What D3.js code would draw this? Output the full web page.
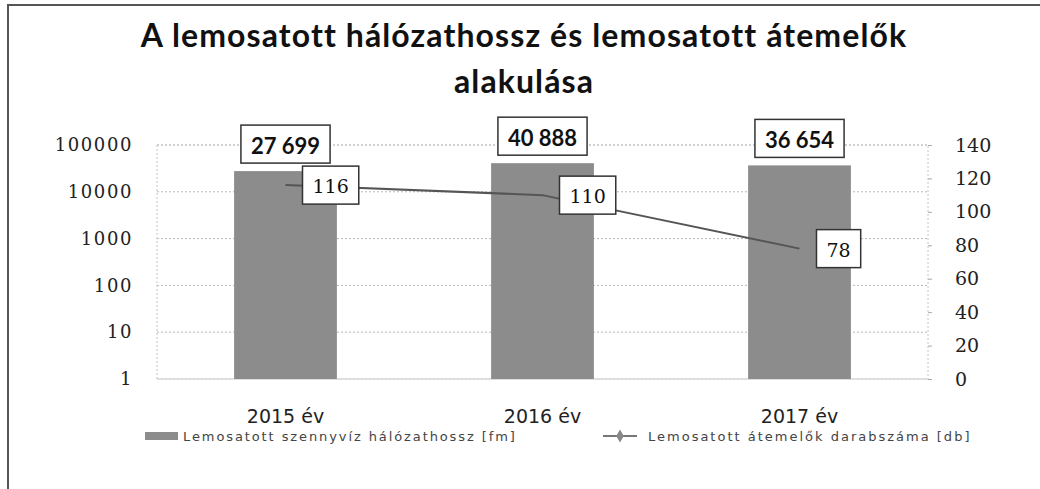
<!DOCTYPE html>
<html>
<head>
<meta charset="utf-8">
<script src="https://cdn.jsdelivr.net/npm/d3@7"></script>
<style>
  body { margin: 0; background: #fff; }
  svg { display: block; }
</style>
</head>
<body>
<svg id="chart" width="1040" height="489"></svg>
<script>
// chart data
const years = ['2015 év', '2016 év', '2017 év']
const halozatHossz = [27699, 40888, 36654]          // fm, bars (left log axis)
const atemelokDb = [116, 110, 78]                   // db, line (right axis)
const leftTicks = [1, 10, 100, 1000, 10000, 100000]
const rightTicks = [0, 20, 40, 60, 80, 100, 120, 140]
const titleLines = ['A lemosatott hálózathossz és lemosatott átemelők', 'alakulása']
const legendNames = ['Lemosatott szennyvíz hálózathossz [fm]', 'Lemosatott átemelők darabszáma [db]']

const svg = d3.select('#chart')
const plot = {left: 157, right: 928, top: 145, bottom: 379}
const huFmt = d3.formatLocale({decimal: ',', thousands: ' ', grouping: [3], currency: ['', '']}).format(',d')

// outer frame (only top/left edges show in the picture)
svg.append('rect')
  .attr('x', 8).attr('y', 5).attr('width', 1100).attr('height', 600)
  .attr('fill', 'none').attr('stroke', '#555').attr('stroke-width', 2)

// title
svg.append('g').selectAll('text')
  .data(titleLines)
  .join('text')
  .attr('x', 524)
  .attr('y', (d, i) => 47 + i * 46)
  .attr('text-anchor', 'middle')
  .style('font-family', 'Lato, "Open Sans", sans-serif')
  .style('font-weight', 700)
  .style('font-size', '32px')
  .style('letter-spacing', '1.1px')
  .attr('fill', '#111')
  .text(d => d)

// scales
const x = d3.scaleBand().domain(years).range([plot.left, plot.right]).paddingInner(0.6).paddingOuter(0.3)
const yL = d3.scaleLog().domain([1, 100000]).range([plot.bottom, plot.top])
const yR = d3.scaleLinear().domain([0, 140]).range([plot.bottom, plot.top])
const cx = d => x(d) + x.bandwidth() / 2

// grid lines
svg.append('g').selectAll('line')
  .data(leftTicks)
  .join('line')
  .attr('x1', plot.left).attr('x2', plot.right)
  .attr('y1', d => yL(d)).attr('y2', d => yL(d))
  .attr('stroke', '#b8b8b8').attr('stroke-dasharray', '2,2')

// plot border (dotted)
svg.append('rect')
  .attr('x', plot.left).attr('y', plot.top)
  .attr('width', plot.right - plot.left).attr('height', plot.bottom - plot.top)
  .attr('fill', 'none').attr('stroke', '#c4c4c4').attr('stroke-dasharray', '2,2')

// left axis
const axL = svg.append('g')
  .attr('transform', `translate(${plot.left},0)`)
  .call(d3.axisLeft(yL).tickValues(leftTicks).tickFormat(d3.format('d')).tickSize(0).tickPadding(24))
axL.select('.domain').remove()
axL.selectAll('text')
  .style('font-family', '"DejaVu Serif", serif').style('font-size', '18px')
  .style('letter-spacing', '1.6px')
  .attr('fill', '#222')

// right axis
const axR = svg.append('g')
  .attr('transform', `translate(${plot.right},0)`)
  .call(d3.axisRight(yR).tickValues(rightTicks).tickSize(4).tickPadding(23))
axR.select('.domain').remove()
axR.selectAll('line').attr('stroke', '#aaa')
axR.selectAll('text')
  .style('font-family', '"DejaVu Serif", serif').style('font-size', '19px')
  .attr('fill', '#222')

// x axis labels
svg.append('g').selectAll('text')
  .data(years)
  .join('text')
  .attr('x', d => cx(d))
  .attr('y', 423)
  .attr('text-anchor', 'middle')
  .style('font-family', '"DejaVu Sans", sans-serif').style('font-size', '19px')
  .attr('fill', '#222')
  .text(d => d)

// bars
svg.append('g').selectAll('rect')
  .data(halozatHossz)
  .join('rect')
  .attr('x', (d, i) => x(years[i]))
  .attr('y', d => yL(d))
  .attr('width', x.bandwidth())
  .attr('height', d => plot.bottom - yL(d))
  .attr('fill', '#8c8c8c')

// line
const line = d3.line().x((d, i) => cx(years[i])).y(d => yR(d))
svg.append('path')
  .attr('d', line(atemelokDb))
  .attr('fill', 'none').attr('stroke', '#555').attr('stroke-width', 2)

// labelled boxes helper
function boxLabel(g, txt, font, anchorX, anchorY, mode) {
  const t = g.append('text')
    .style('font-family', font.family).style('font-size', font.size).style('font-weight', font.weight)
    .attr('fill', '#111')
    .attr('text-anchor', 'middle').attr('dominant-baseline', 'central')
    .text(txt)
  const w = t.node().getComputedTextLength() + 20
  const h = 38
  let bx, by
  if (mode === 'above') { bx = anchorX - w / 2; by = anchorY - 8 - h }
  else { bx = anchorX + 17; by = anchorY - h / 2 }
  g.insert('rect', 'text')
    .attr('x', bx).attr('y', by).attr('width', w).attr('height', h)
    .attr('fill', '#fff').attr('stroke', '#333').attr('stroke-width', 1.5)
  t.attr('x', bx + w / 2).attr('y', by + h / 2 + 1)
}

const labels = svg.append('g')
halozatHossz.forEach((v, i) => {
  boxLabel(labels.append('g'), huFmt(v), {family: 'Lato, sans-serif', size: '22px', weight: 700}, cx(years[i]), yL(v), 'above')
})
atemelokDb.forEach((v, i) => {
  boxLabel(labels.append('g'), v, {family: '"DejaVu Serif", serif', size: '19px', weight: 400}, cx(years[i]), yR(v), 'right')
})

// legend
const leg = svg.append('g')
leg.append('rect').attr('x', 145).attr('y', 432).attr('width', 33).attr('height', 8).attr('fill', '#8c8c8c')
leg.append('text').attr('x', 183).attr('y', 441)
  .style('font-family', '"DejaVu Sans", sans-serif').style('font-size', '13px')
  .style('letter-spacing', '1.9px').attr('fill', '#444')
  .text(legendNames[0])
leg.append('line').attr('x1', 603).attr('x2', 637).attr('y1', 436).attr('y2', 436)
  .attr('stroke', '#777').attr('stroke-width', 2)
leg.append('path').attr('d', d3.symbol(d3.symbolDiamond, 50)()).attr('transform', 'translate(620,436)')
  .attr('fill', '#888')
leg.append('text').attr('x', 648).attr('y', 441)
  .style('font-family', '"DejaVu Sans", sans-serif').style('font-size', '13px')
  .style('letter-spacing', '2px').attr('fill', '#444')
  .text(legendNames[1])
</script>
</body>
</html>
